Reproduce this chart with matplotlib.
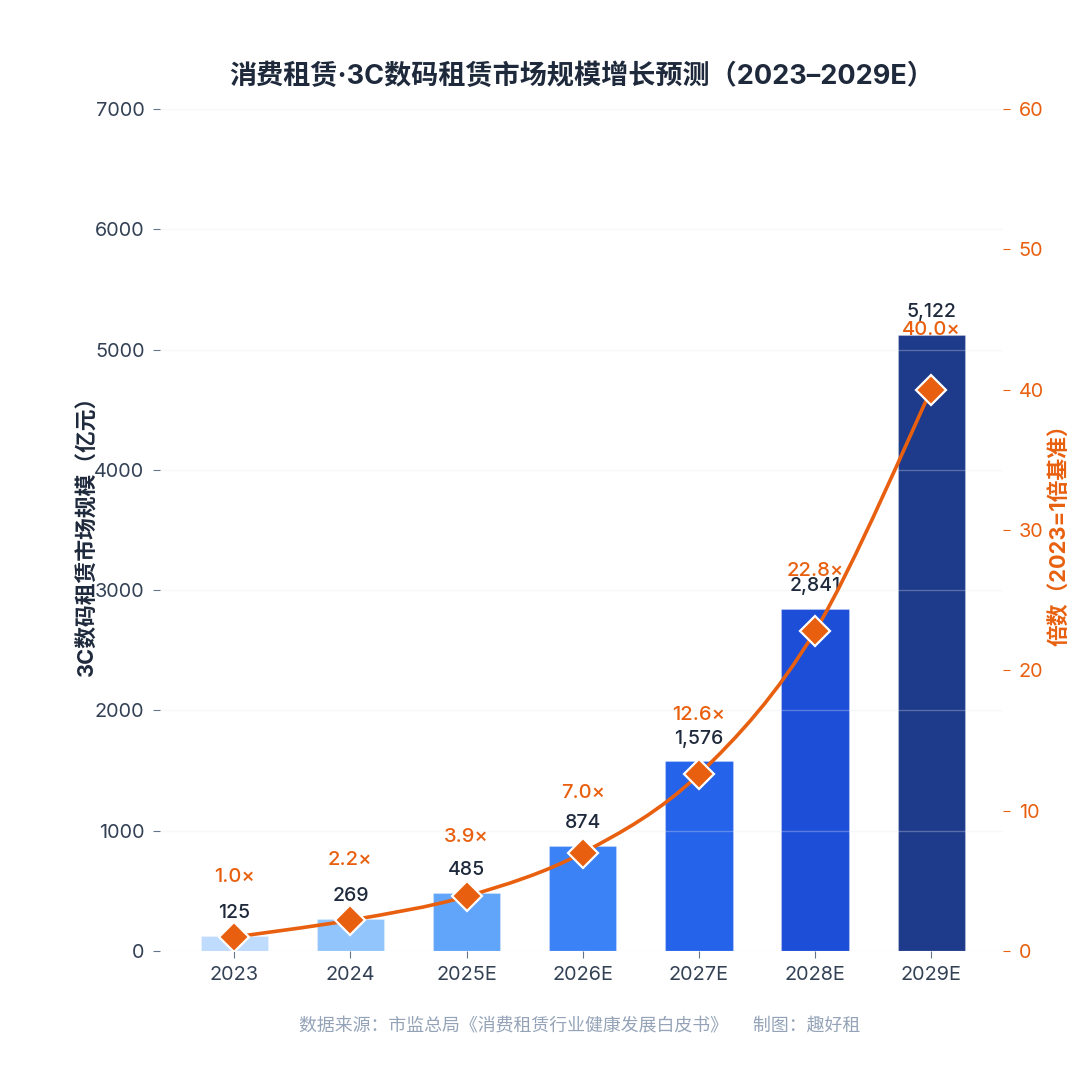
import matplotlib

matplotlib.use("Agg")

import matplotlib.pyplot as plt  # noqa: E402
from matplotlib.path import Path  # noqa: E402
from matplotlib.patches import PathPatch  # noqa: E402

plt.rcParams["font.family"] = ["Inter", "Noto Sans CJK SC", "DejaVu Sans"]

# data
years = ["2023", "2024", "2025E", "2026E", "2027E", "2028E", "2029E"]
market_size = [125, 269, 485, 874, 1576, 2841, 5122]
multiples = [1.0, 2.2, 3.9, 7.0, 12.6, 22.8, 40.0]
left_ticks = [0, 1000, 2000, 3000, 4000, 5000, 6000, 7000]
right_ticks = [0, 10, 20, 30, 40, 50, 60]

bar_colors = ["#bfdbfe", "#93c5fd", "#60a5fa", "#3b82f6",
              "#2563eb", "#1d4ed8", "#1e3a8a"]
ORANGE = "#e8600f"
NAVY = "#1e293b"
TICK_GRAY = "#334155"

fig = plt.figure(figsize=(10.8, 10.8), dpi=100)
ax = fig.add_axes([0.148, 0.1194, 0.781, 0.7796])
ax2 = ax.twinx()

x = list(range(len(years)))
ax.bar(x, market_size, width=0.58, color=bar_colors, zorder=1,
       edgecolor=(1, 1, 1, 0.25), linewidth=0.8)
ax.set_ylim(0, 7000)
ax.set_xlim(-0.64, 6.62)
ax.set_yticks(left_ticks)
ax.set_xticks(x)
ax.set_xticklabels(years)
ax.set_axisbelow(False)
ax.grid(axis="y", color="#e2e8f0", alpha=0.3, linewidth=1, zorder=2)
ax.grid(axis="x", visible=False)

# the value labels sit close to the multiple labels, as in the reference
for xi, v in zip(x, market_size):
    ax.annotate(f"{v:,}", (xi, v), xytext=(0, 10), textcoords="offset points",
                ha="center", va="bottom", fontsize=14, color=NAVY,
                fontweight="medium", zorder=5)

# smooth line through the multiples (Catmull-Rom as cubic bezier)
pts = list(zip(x, multiples))
verts = [pts[0]]
codes = [Path.MOVETO]
for i in range(len(pts) - 1):
    p0 = pts[i - 1] if i > 0 else pts[i]
    p1 = pts[i]
    p2 = pts[i + 1]
    p3 = pts[i + 2] if i + 2 < len(pts) else pts[i + 1]
    c1 = (p1[0] + (p2[0] - p0[0]) / 6, p1[1] + (p2[1] - p0[1]) / 6)
    c2 = (p2[0] - (p3[0] - p1[0]) / 6, p2[1] - (p3[1] - p1[1]) / 6)
    verts += [c1, c2, p2]
    codes += [Path.CURVE4] * 3
ax2.add_patch(PathPatch(Path(verts, codes), facecolor="none",
                        edgecolor=ORANGE, linewidth=2.6, zorder=3))
ax2.plot(x, multiples, linestyle="none", marker="D", markersize=15.5,
         markerfacecolor=ORANGE, markeredgecolor="white",
         markeredgewidth=1.6, zorder=4)
for xi, m in zip(x, multiples):
    ax2.annotate(f"{m:.1f}×", (xi, m), xytext=(0, 43),
                 textcoords="offset points", ha="center", va="center",
                 fontsize=14.5, color=ORANGE, fontweight="medium", zorder=5)
ax2.set_ylim(0, 60)
ax2.set_yticks(right_ticks)

for a in (ax, ax2):
    for s in a.spines.values():
        s.set_visible(False)

ax.tick_params(axis="y", length=5, width=0.8, color="#64748b",
               labelsize=14.3, labelcolor=TICK_GRAY, pad=6)
ax.tick_params(axis="x", length=5, width=0.8, color="#64748b",
               labelsize=14.3, labelcolor=TICK_GRAY, pad=6)
ax2.tick_params(axis="y", length=5, width=0.8, color=ORANGE,
                labelsize=14.3, labelcolor=ORANGE, pad=6)

ax.set_ylabel("3C数码租赁市场规模（亿元）", fontsize=15.7, fontweight="bold",
              color=NAVY)
ax.yaxis.set_label_coords(-0.074, 0.5)
ax2.set_ylabel("倍数（2023=1倍基准）", fontsize=15.7, fontweight="bold",
               color=ORANGE)
ax2.yaxis.set_label_coords(1.054, 0.5)

fig.text(0.539, 0.929, "消费租赁·3C数码租赁市场规模增长预测（2023–2029E）",
         ha="center", va="center", fontsize=19.5, fontweight="bold",
         color=NAVY)
fig.text(0.537, 0.049,
         "数据来源：市监总局《消费租赁行业健康发展白皮书》     制图：趣好租",
         ha="center", va="center", fontsize=12.9, color="#94a3b8")

fig.savefig("out.png", dpi=100, facecolor="white")
